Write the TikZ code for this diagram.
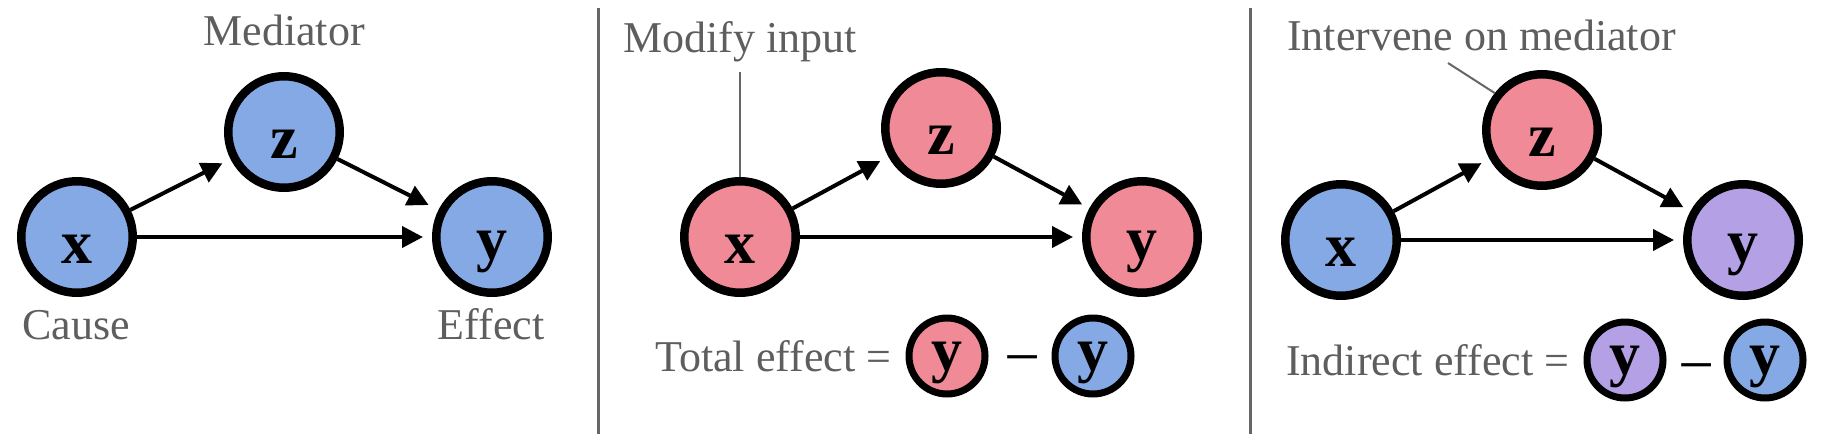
\documentclass[tikz,border=0pt]{standalone}
\usepackage{fontspec}
\setmainfont{Liberation Serif}
\usetikzlibrary{arrows.meta}
\definecolor{cblue}{HTML}{85A9E5}
\definecolor{cpink}{HTML}{EF8A96}
\definecolor{cpurple}{HTML}{B3A0E5}
\definecolor{lblgray}{HTML}{5E5E5E}
\definecolor{rulegray}{HTML}{666666}
\begin{document}
\begin{tikzpicture}[x=1pt,y=-1pt,
  bignode/.style={circle,draw=black,line width=8.5pt,minimum size=111.5pt,inner sep=0pt,
    font=\fontsize{62}{62}\selectfont\bfseries,text height=52pt,text depth=0pt},
  ynode/.style={bignode,text height=44pt},
  smallnode/.style={circle,draw=black,line width=7pt,minimum size=76pt,inner sep=0pt,
    font=\fontsize{62}{62}\selectfont\bfseries,text height=28pt,text depth=0pt},
  arr/.style={line width=4pt,-{Triangle[length=21pt,width=21pt]},shorten >=9pt},
  lbl/.style={text=lblgray,font=\fontsize{44}{50}\selectfont,inner sep=0pt},
  minussign/.style={text=black,font=\fontsize{64}{64}\selectfont,inner sep=0pt,anchor=base},
  ptr/.style={draw=rulegray,line width=2.5pt},
  divider/.style={draw=rulegray,line width=3pt}]
\useasboundingbox (0,0) rectangle (1826,442);

% ---------- Panel 1 ----------
\node[bignode,fill=cblue] (x1) at (77,237) {x};
\node[bignode,fill=cblue] (z1) at (284,132) {z};
\node[ynode,fill=cblue] (y1) at (492,237) {y};
\draw[arr] (x1) -- (z1);
\draw[arr] (x1) -- (y1);
\draw[arr,shorten >=11pt] (z1) -- (y1);
\node[lbl,anchor=base] (med) at (284,45) {Mediator};
\node[lbl,anchor=base] (cause) at (76,339) {Cause};
\node[lbl,anchor=base] (effect) at (491,339) {Effect};

% ---------- dividers ----------
\coordinate (d1t) at (598,8);
\coordinate (d1b) at (598,434);
\coordinate (d2t) at (1250,8);
\coordinate (d2b) at (1250,434);
\draw[divider] (d1t) -- (d1b);
\draw[divider] (d2t) -- (d2b);

% ---------- Panel 2 ----------
\node[bignode,fill=cpink] (x2) at (740,237) {x};
\node[bignode,fill=cpink] (z2) at (941,128) {z};
\node[ynode,fill=cpink] (y2) at (1142,237) {y};
\draw[arr] (x2) -- (z2);
\draw[arr] (x2) -- (y2);
\draw[arr,shorten >=8pt] (z2) -- (y2);
\node[lbl,anchor=base west] (modify) at (623,52) {Modify input};
\coordinate (p2) at (740,72);
\draw[ptr] (p2) -- (x2.north);
\node[lbl,anchor=base west] (total) at (655,371) {Total effect =};
\node[smallnode,fill=cpink] (s2a) at (947,356) {y};
\node[minussign] (m2) at (1023,378) {−};
\node[smallnode,fill=cblue] (s2b) at (1093,356) {y};

% ---------- Panel 3 ----------
\node[bignode,fill=cblue] (x3) at (1341,240) {x};
\node[bignode,fill=cpink] (z3) at (1542,130) {z};
\node[ynode,fill=cpurple] (y3) at (1743,240) {y};
\draw[arr] (x3) -- (z3);
\draw[arr] (x3) -- (y3);
\draw[arr,shorten >=8pt] (z3) -- (y3);
\node[lbl,anchor=base west] (interv) at (1287,50) {Intervene on mediator};
\coordinate (p3) at (1448,63);
\draw[ptr,line width=2pt] (p3) -- (z3.142);
\node[lbl,anchor=base west] (indirect) at (1286,375) {Indirect effect =};
\node[smallnode,fill=cpurple] (s3a) at (1625,360) {y};
\node[minussign] (m3) at (1697,386) {−};
\node[smallnode,fill=cblue] (s3b) at (1765,360) {y};
\end{tikzpicture}
\end{document}
